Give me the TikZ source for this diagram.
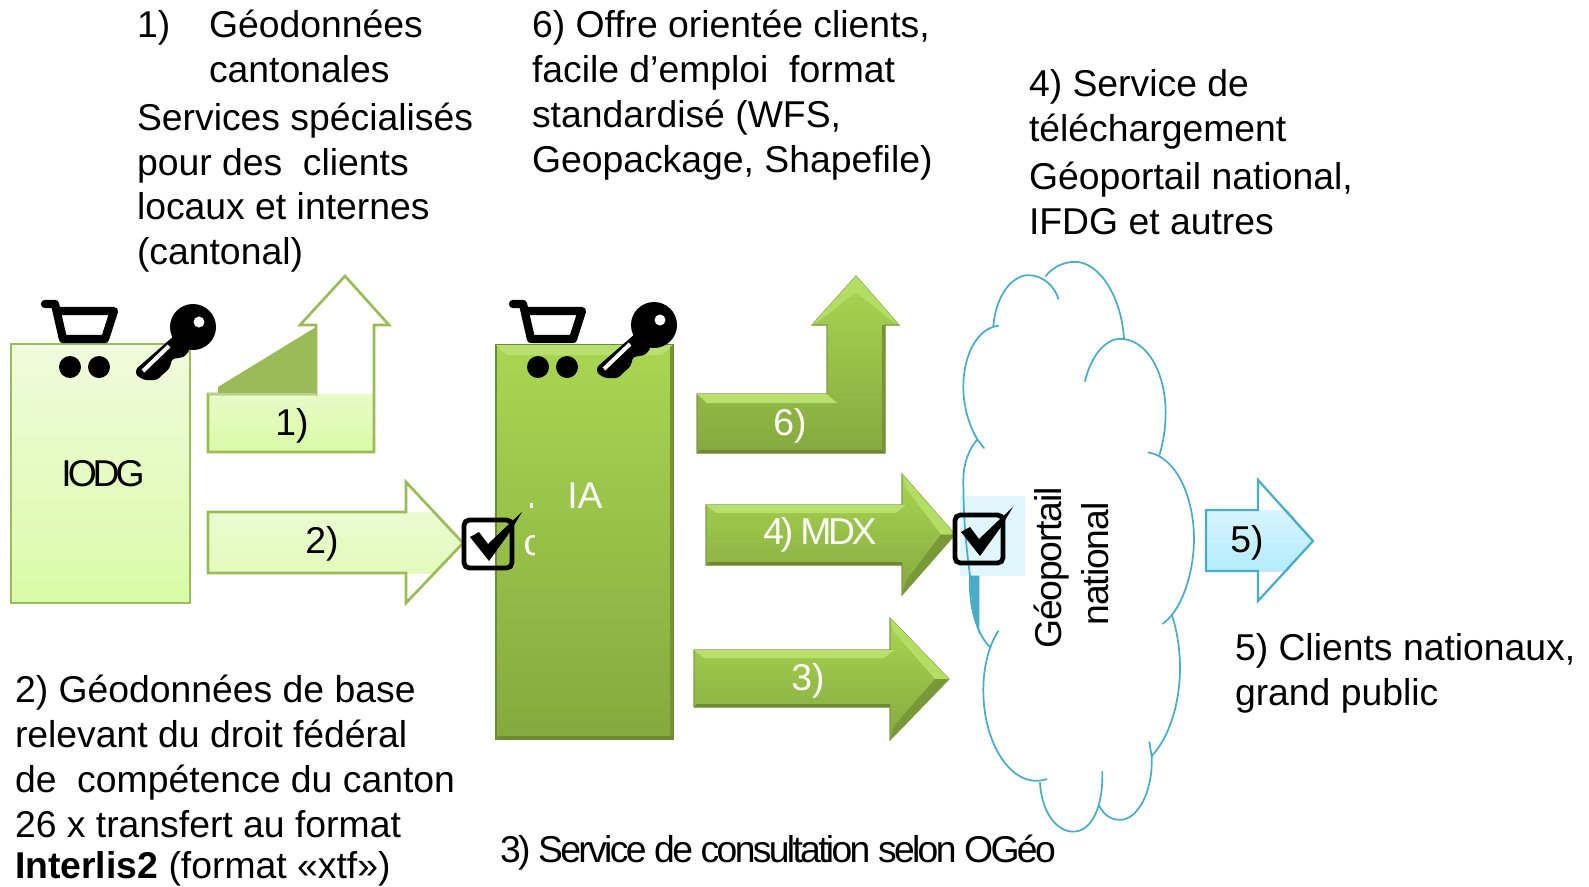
\documentclass[tikz,border=0pt]{standalone}
\usepackage{fontspec}
\setmainfont{Liberation Sans}
\newcommand{\cartat}[2]{%
\begin{scope}[shift={(#1,#2)}]
\draw[black,line width=6.2pt,line join=round,line cap=round] (0,0) -- (10,0) -- (18,35) -- (60,35) -- (69,7) -- (12,7);
\fill (25,63) circle (11); \fill (54,63) circle (11);
\end{scope}}
\newcommand{\keyat}[2]{%
\begin{scope}[shift={(#1,#2)}]
\fill[black] (0,0) circle (23);
\fill[black,rounded corners=2] (-18,8) -- (-57,42) -- (-57,48) -- (-49,53) -- (-36,53) -- (-30,47) -- (-26,44) -- (-23,40) -- (-21,32) -- (-9,30) -- (-3,23) -- cycle;
\draw[white,line width=3pt] (-50,44) -- (-24,19);
\fill[white] (6,-5) circle (5.5);
\end{scope}}
\newcommand{\checkat}[2]{%
\begin{scope}[shift={(#1,#2)}]
\draw[black,line width=3.6pt,rounded corners=4,fill=none] (0,0) rectangle (48,48);
\fill[black] (6,17) -- (15,12) -- (24,24) -- (44,5) -- (58,-8) -- (46,12) -- (25,41) -- cycle;
\end{scope}}
% x0 x1 ytop ybot headx headtop headbot tip
\newcommand{\bevelarrow}[8]{%
\fill[top color=gA,bottom color=gB,draw=gE,line width=0.8pt] (#1,#3) -- (#5,#3) -- (#5,#6) -- (#8,{(#6+#7)/2}) -- (#5,#7) -- (#5,#4) -- (#1,#4) -- cycle;
\fill[gL] (#1,#3) -- (#5+4,#3) -- (#5-6,#3+8) -- (#1+10,#3+8) -- cycle;
\fill[gL!70!gA] (#5,#6) -- (#8,{(#6+#7)/2}) -- (#8-14,{(#6+#7)/2}) -- (#5+4,#6+14) -- cycle;
\fill[gD!55!gB] (#5,#7) -- (#8,{(#6+#7)/2}) -- (#8-14,{(#6+#7)/2}) -- (#5+4,#7-14) -- cycle;
\fill[gD] (#1,#4) -- (#5,#4) -- (#5,#4-3) -- (#1+3,#4-3) -- cycle;}
\definecolor{lgA}{HTML}{EFFBDD}
\definecolor{lgB}{HTML}{DAFBA6}
\definecolor{lgE}{HTML}{9BBB59}
\definecolor{gA}{HTML}{A8D651}
\definecolor{gB}{HTML}{86A93F}
\definecolor{gE}{HTML}{7E9C45}
\definecolor{gL}{HTML}{B9E06E}
\definecolor{gD}{HTML}{6E8A33}
\definecolor{blA}{HTML}{D6F4FD}
\definecolor{blB}{HTML}{B5ECFD}
\definecolor{blE}{HTML}{4BACC6}
\tikzset{
 txt/.style={anchor=base west,inner sep=0pt,outer sep=0pt,font=\fontsize{28.0}{34}\selectfont,text=black},
 lab/.style={anchor=center,inner sep=0pt,outer sep=0pt,font=\fontsize{28.0}{34}\selectfont},
 cloudline/.style={draw=blE,line width=1.3pt,line cap=round}
}
\begin{document}
\begin{tikzpicture}[x=0.75pt,y=-0.75pt]
\useasboundingbox (0,0) rectangle (1589,886);
% IODG
\fill[top color=lgA,bottom color=lgB,draw=lgE,line width=2.2pt] (11,344) rectangle (190,603);
\node[lab,text=black] (iodg) at (103,474) {\addfontfeature{LetterSpace=-11}IODG};
% arrow 1
\fill[top color=lgA!60!lgB,bottom color=lgB] (208,394) rectangle (374,452);
\draw[lgE,line width=2pt,line join=miter] (208,394) -- (208,452) -- (374,452) -- (374,325) -- (389,325) -- (345,276) -- (300,325) -- (316,325) -- (316,394) -- cycle;
\fill[lgE] (218,387) -- (316,327) -- (316,394) -- (218,394) -- cycle;
\draw[lgE!70!white,line width=1.4pt] (208,394) -- (316,394);
\node[lab] (l1) at (292,426) {1)};
% arrow 2
\begin{scope}
\clip (208,512) rectangle (470,573);
\fill[top color=lgA,bottom color=lgB!80!lgA] (208,512) -- (406,512) -- (406,482) -- (463,543) -- (406,603) -- (406,573) -- (208,573) -- cycle;
\end{scope}
\draw[lgE,line width=2pt] (208,512) -- (406,512) -- (406,482) -- (463,543) -- (406,603) -- (406,573) -- (208,573) -- cycle;
\node[lab] (l2) at (322,544) {2)};
% IA
\fill[top color=gA,bottom color=gB,draw=gD,line width=0.8pt] (496,345) rectangle (673,739);
\fill[gL] (496,345) -- (673,345) -- (662,355) -- (507,355) -- cycle;
\fill[gD!70!gB] (673,345) -- (673,739) -- (670,739) -- (670,347) -- cycle;
\fill[gD] (496,739) -- (673,739) -- (671,736) -- (498,736) -- cycle;
\node[lab,text=white] (ia) at (585,496) {IA};
\fill[white] (530,503) rectangle (533,508);
\begin{scope}
\clip (516,525) rectangle (534,565);
\node[lab,text=white] (frag) at (533,546) {c};
\end{scope}
% arrow 6
\fill[top color=gA,bottom color=gB,draw=gE,line width=0.8pt] (697,394) -- (697,453) -- (885,453) -- (885,325) -- (899,325) -- (856,276) -- (812,325) -- (827,325) -- (827,394) -- cycle;
\fill[gL] (697,394) -- (827,394) -- (837,403) -- (707,403) -- cycle;
\fill[gL!70!gA] (856,276) -- (899,325) -- (888,318) -- (856,292) -- (823,318) -- (812,325) -- cycle;
\fill[gD] (697,453) -- (885,453) -- (885,450) -- (700,450) -- cycle;
\fill[gD!70!gB] (885,453) -- (885,325) -- (882,325) -- (882,450) -- cycle;
\node[lab,text=white] (l6) at (790,426) {6)};
% arrows 4 and 3
\bevelarrow{706}{902}{505}{565}{902}{474}{595}{955}
\node[lab,text=white] (l4) at (820,535) {\addfontfeature{LetterSpace=-9}4) MDX};
\bevelarrow{694}{890}{650}{707}{890}{618}{740}{949}
\node[lab,text=white] (l3) at (808,681) {3)};
% cloud
\fill[blA!75!white] (960,496) rectangle (1025,576);
\begin{scope}[shift={(900,250)},xscale=0.3333,yscale=0.37]
\fill[blE] (210,880) -- (238,880) -- (238,1040) .. controls (222,1000) and (212,950) .. (210,880) -- cycle;
\draw[cloudline] (280,205) .. controls (290,110) and (345,68) .. (385,68) .. controls (430,68) and (465,100) .. (475,132);
\draw[cloudline] (437,70) .. controls (465,40) and (500,32) .. (525,32) .. controls (600,32) and (665,130) .. (672,240);
\draw[cloudline] (555,355) .. controls (575,280) and (620,240) .. (660,240) .. controls (740,240) and (797,330) .. (797,440) .. controls (797,480) and (790,520) .. (778,555);
\draw[cloudline] (745,547) .. controls (830,560) and (882,670) .. (882,780) .. controls (882,880) and (840,980) .. (788,1010);
\draw[cloudline] (815,985) .. controls (832,1030) and (840,1080) .. (840,1130) .. controls (840,1230) and (805,1320) .. (755,1368) -- (748,1330);
\draw[cloudline] (755,1368) .. controls (760,1460) and (715,1540) .. (660,1540) .. controls (630,1540) and (610,1525) .. (597,1500);
\draw[cloudline] (607,1410) .. controls (610,1505) and (575,1572) .. (520,1572) .. controls (470,1572) and (425,1520) .. (420,1440);
\draw[cloudline] (440,1430) .. controls (340,1460) and (250,1340) .. (250,1190) .. controls (250,1130) and (265,1070) .. (295,1030);
\draw[cloudline] (272,1075) .. controls (230,1040) and (205,960) .. (210,880) .. controls (195,780) and (190,700) .. (190,620) .. controls (190,580) and (205,540) .. (232,512) -- (252,535);
\draw[cloudline] (232,512) .. controls (205,470) and (190,420) .. (190,370) .. controls (190,280) and (235,210) .. (295,205);
\end{scope}
\node[lab,rotate=90] (geo) at (1052,568) {\addfontfeature{LetterSpace=-3.2}Géoportail};
\node[lab,rotate=90] (nat) at (1095,564) {\addfontfeature{LetterSpace=-3}national};
% arrow 5
\begin{scope}
\clip (1206,510) rectangle (1320,571);
\fill[top color=blA,bottom color=blB] (1206,510) rectangle (1258,571);
\fill[top color=blA,bottom color=blB] (1258,510) -- (1287,510) -- (1313,541) -- (1287,571) -- (1258,571) -- cycle;
\end{scope}
\draw[blE,line width=1.7pt] (1206,510) -- (1258,510) -- (1258,480) -- (1313,541) -- (1258,601) -- (1258,571) -- (1206,571) -- cycle;
\node[lab] (l5) at (1247,543) {5)};
% icons
\cartat{45}{304}
\keyat{193}{327}
\cartat{513}{304}
\keyat{654}{325}
\checkat{464}{520}
\checkat{955}{515}
% texts
\node[txt] (a1) at (137,37) {1)};
\node[txt] (a2) at (209,37) {Géodonnées};
\node[txt] (a3) at (209,82.5) {cantonales};
\node[txt] (a4) at (137,130) {Services spécialisés};
\node[txt] (a5) at (137,175) {pour des\ \ clients};
\node[txt] (a6) at (137,219) {locaux et internes};
\node[txt] (a7) at (137,264) {(cantonal)};
\node[txt] (b1) at (532,37) {6) Offre orientée clients,};
\node[txt] (b2) at (532,82.5) {facile d’emploi\ \ format};
\node[txt] (b3) at (532,127) {standardisé (WFS,};
\node[txt] (b4) at (532,172) {Geopackage, Shapefile)};
\node[txt] (c1) at (1029,96) {4) Service de};
\node[txt] (c2) at (1029,141) {téléchargement};
\node[txt] (c3) at (1029,189.5) {Géoportail national,};
\node[txt] (c4) at (1029,234) {IFDG et autres};
\node[txt] (d1) at (1235,660) {5) Clients nationaux,};
\node[txt] (d2) at (1235,705) {grand public};
\node[txt] (e1) at (15,702) {2) Géodonnées de base};
\node[txt] (e2) at (15,747) {relevant du droit fédéral};
\node[txt] (e3) at (15,792) {de\ \ compétence du canton};
\node[txt] (e4) at (15,837) {26 x transfert au format};
\node[txt] (e5) at (15,878) {\textbf{Interlis2} (format «xtf»)};
\node[txt] (f1) at (500,862) {\addfontfeature{LetterSpace=-7.2}3) Service de consultation selon OGéo};
\end{tikzpicture}
\end{document}
